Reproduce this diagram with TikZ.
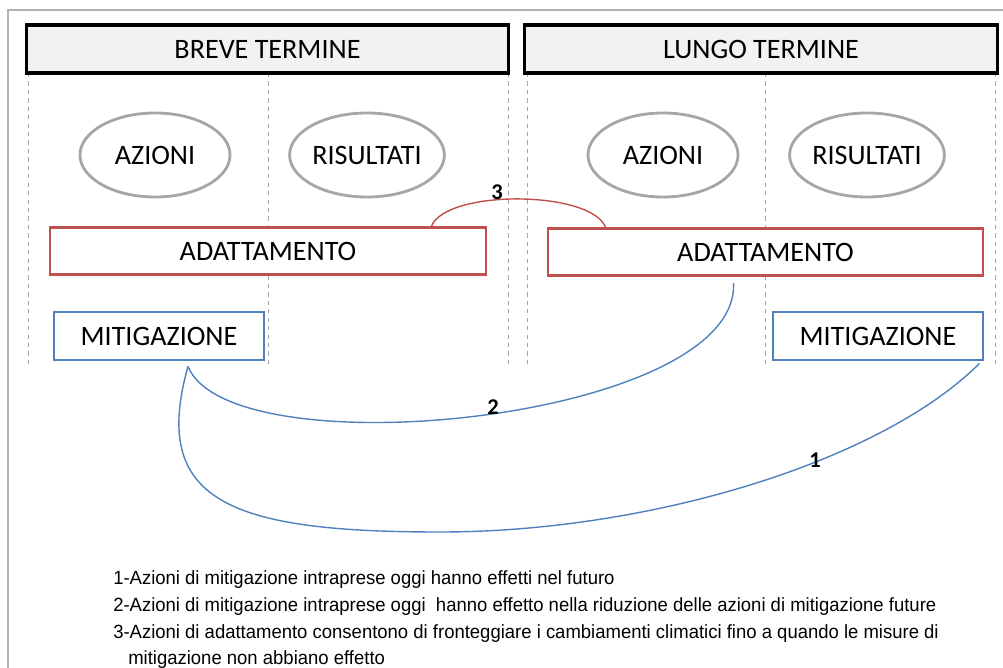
\documentclass[tikz,border=0pt]{standalone}
\usepackage{fontspec}
\setmainfont{Carlito}
\newfontfamily\arialfont{Liberation Sans}
\usepackage{tikz}
\usetikzlibrary{positioning,shapes.geometric,calc}

\definecolor{adred}{HTML}{C0504D}
\definecolor{miblue}{HTML}{4F81BD}
\definecolor{ringgray}{HTML}{A6A6A6}
\definecolor{headfill}{HTML}{F2F2F2}

\tikzset{
  head/.style={draw=black, fill=headfill, line width=2.2pt, minimum width=#1, minimum height=1.2cm, inner sep=0pt, font=\fontsize{20}{24}\selectfont},
  ring/.style={draw=ringgray, line width=2pt, ellipse, minimum width=3.75cm, minimum height=2.1cm, inner sep=0pt, font=\fontsize{20}{24}\selectfont},
  adbox/.style={draw=adred, fill=white, line width=2pt, minimum width=#1, minimum height=1.17cm, inner sep=0pt, font=\fontsize{20}{24}\selectfont},
  mibox/.style={draw=miblue, fill=white, line width=2pt, minimum width=5.25cm, minimum height=1.2cm, inner sep=0pt, font=\fontsize{20}{24}\selectfont},
  guide/.style={draw=gray!70, line width=0.6pt, dash pattern=on 3pt off 3pt},
  num/.style={font=\fontsize{16}{18}\selectfont\bfseries, inner sep=0pt},
  legend/.style={anchor=base west, inner sep=0pt, xscale=0.967, transform shape, font=\arialfont\fontsize{13.6}{16}\selectfont}
}

\begin{document}
\begin{tikzpicture}[x=0.025cm, y=-0.025cm]
\useasboundingbox (0,0) rectangle (1003,668);

%frame
\draw[gray!60, line width=1pt] (8,668) -- (8,10) -- (1003,10);

%column guides
\foreach \gx in {28,268,508,527,765,995}
  \draw[guide] (\gx,73) -- (\gx,368);

%headers
\node[head=12.025cm] (bt) at (267.5,49) {BREVE TERMINE};
\node[head=11.8cm] (lt) at (761,49) {LUNGO TERMINE};

%actions and results
\node[ring] (azl) at (155,155) {AZIONI};
\node[ring] (ril) at (367,155) {RISULTATI};
\node[ring] (azr) at (663,155) {AZIONI};
\node[ring] (rir) at (867,155) {RISULTATI};

%adaptation
\node[adbox=10.9cm] (adl) at (268,251) {ADATTAMENTO};
\node[adbox=10.875cm] (adr) at (765.5,252) {ADATTAMENTO};

%mitigation
\node[mibox] (mil) at (159,336) {MITIGAZIONE};
\node[mibox] (mir) at (878,336) {MITIGAZIONE};

%links
\draw[adred, line width=1pt] ([shift={(-56,0)}]adl.north east) .. controls +(15,-37) and +(-15,-37) .. ([shift={(59,0)}]adr.north west);
\draw[miblue, line width=1pt] ([shift={(29,5)}]mil.south) .. controls +(42,105) and +(7,138) .. ([shift={(-32,6)}]adr.south);
\coordinate (low) at (440,532);
\draw[miblue, line width=1pt] ([shift={(29,5)}]mil.south) .. controls +(-38,135) and +(-210,0) .. (low) .. controls +(210,0) and +(-98,98) .. ([shift={(-5,2)}]mir.south east);

\node[num] (n3) at (497,192) {3};
\node[num] (n2) at (493,407) {2};
\node[num] (n1) at (815,460) {1};

%legend
\node[legend] (l1) at (113,584) {1-Azioni di mitigazione intraprese oggi hanno effetti nel futuro};
\node[legend] (l2) at (113,611) {2-Azioni di mitigazione intraprese oggi\ \ hanno effetto nella riduzione delle azioni di mitigazione future};
\node[legend] (l3) at (113,638) {3-Azioni di adattamento consentono di fronteggiare i cambiamenti climatici fino a quando le misure di};
\node[legend] (l4) at (128,664) {mitigazione non abbiano effetto};
\end{tikzpicture}
\end{document}
